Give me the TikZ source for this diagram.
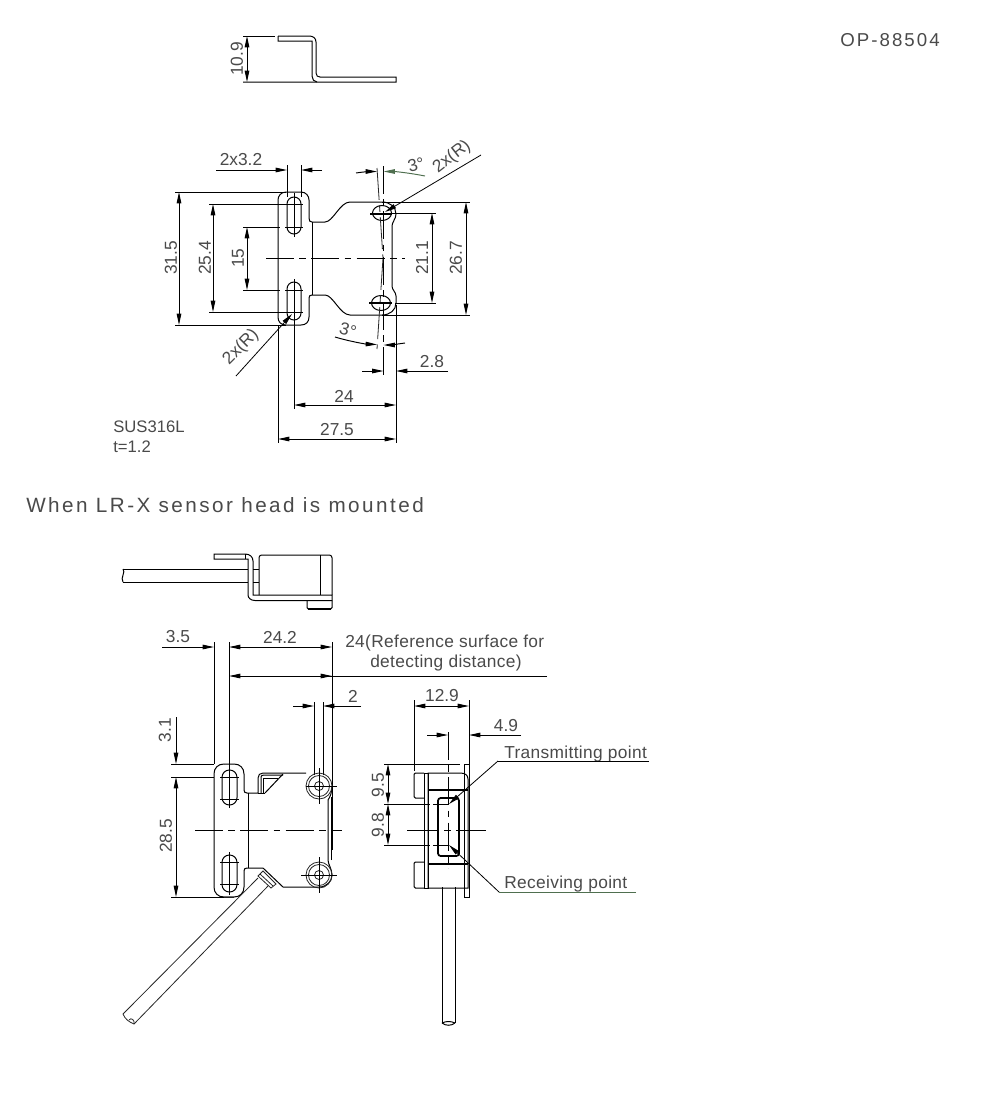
\documentclass[tikz,border=0pt]{standalone}
\usepackage{fontspec}
\setmainfont{Liberation Sans}
\usetikzlibrary{arrows.meta}
\definecolor{txt}{HTML}{4A4A4A}
\definecolor{lead}{HTML}{4F6F4F}
\tikzset{
 obj/.style={line width=0.75pt,black},
 thin1/.style={line width=0.6pt,black!85},
 thick1/.style={line width=1.3pt,black},
 tipe/.style={-{Triangle[length=8.5pt,width=3.4pt]},line width=0.72pt},
 tipb/.style={{Triangle[length=8.5pt,width=3.4pt]}-{Triangle[length=8.5pt,width=3.4pt]},line width=0.72pt},
 ctr/.style={line width=0.75pt,dash pattern=on 21pt off 4pt on 5pt off 4pt},
 lbl/.style={text=txt,font=\fontsize{13}{13}\selectfont,inner sep=0pt},
 rot/.style={lbl,rotate=90},
 big/.style={text=txt,font=\fontsize{15.5}{16}\selectfont\addfontfeature{LetterSpace=12},inner sep=0pt,anchor=west},
 lft/.style={lbl,anchor=west,font=\fontsize{13}{13}\selectfont\addfontfeature{LetterSpace=2}},
 matl/.style={lbl,anchor=west,font=\fontsize{12.5}{13}\selectfont},
}
\begin{document}
\begin{tikzpicture}[x=0.75pt,y=-0.75pt]
\useasboundingbox (0,0) rectangle (1000,1100);
\fill[white] (0,0) rectangle (1000,1100);
% --- texts top
\node[big,font=\fontsize{14}{14}\selectfont\addfontfeature{LetterSpace=11}] (opn) at (840,40) {OP-88504};
\node[big] (head) at (26,505) {When LR-X sensor head is mounted};
\node[matl] (mat1) at (113,427) {SUS316L};
\node[matl] (mat2) at (113,447) {t=1.2};
% --- side view of bracket
\draw[obj] (243,36) -- (275,36);
\draw[obj] (278,36) -- (309,36) .. controls (313,36) and (316,38) .. (316,42) -- (316,73) .. controls (316,76) and (318,77) .. (320,77) -- (396,77) -- (396,82) -- (243,82);
\draw[obj] (278,36) -- (278,41) -- (312,41) -- (312,76) .. controls (312,79) and (314,82) .. (317,82);
\draw[tipb] (247,36) -- (247,82);
\node[rot] (d109) at (237,59) {10.9};
% --- plan view outline
\draw[obj] (286,192) -- (301,192) .. controls (306,192) and (309,196) .. (309,200) -- (309,218) .. controls (309,221) and (310,222) .. (312,222) -- (325,222) .. controls (333,222) and (340,202) .. (350,202) -- (382,202) .. controls (390,202) and (396,207) .. (396,214) .. controls (396,219) and (392,222) .. (392,226) -- (392,286) .. controls (392,290) and (396,292) .. (396,296) -- (396,303) .. controls (396,310) and (390,315) .. (382,315) -- (350,315) .. controls (340,315) and (333,295) .. (325,295) -- (312,295) .. controls (310,295) and (309,296) .. (309,298) -- (309,317) .. controls (309,322) and (306,325) .. (301,325) -- (286,325) .. controls (281,325) and (278,322) .. (278,317) -- (278,200) .. controls (278,196) and (281,192) .. (286,192) -- cycle;
\draw[obj] (312,222) -- (312,295);
% slots
\draw[obj,rounded corners=5.2pt] (287,197) rectangle (301,234);
\draw[obj,rounded corners=5.2pt] (287,282) rectangle (301,320);
\draw[obj] (294,193) -- (294,237);
\draw[obj] (294,279) -- (294,409);
\draw[obj] (285,204) -- (303,204) (285,227) -- (303,227) (285,290) -- (303,290) (285,312) -- (303,312);
% holes
\draw[obj] (382,213) ellipse (9.5 and 7.5);
\draw[obj] (381,303) ellipse (9.5 and 7.5);
\draw[thick1] (370,214) -- (392,214);
\draw[thick1] (369,303) -- (392,303);
\draw[ctr] (383.5,166) -- (383.5,376);
\draw[thin1,dash pattern=on 24pt off 4pt on 5pt off 4pt] (377,168) -- (383,258);
\draw[thin1,dash pattern=on 24pt off 4pt on 5pt off 4pt] (383,258) -- (377,349);
\draw[ctr] (266,258) -- (405,258);
% 2x3.2
\draw[obj] (287,165) -- (287,197) (301,165) -- (301,197);
\draw[tipe] (216,170) -- (287,170);
\draw[tipe] (322,170) -- (301,170);
\node[lbl] (d32) at (241,160) {2x3.2};
% 3 deg upper
\draw[tipe] (356,173) .. controls (362,172) and (370,171.5) .. (377,171.5);
\draw[tipe,lead] (425,176) .. controls (410,173) and (395,171.5) .. (383.5,171.5);
\node[lbl,rotate=15] (a3u) at (416,165) {3°};
\node[lbl,rotate=38] (ru) at (452,157) {2x(R)};
\coordinate (ruend) at (481,155);
\coordinate (rutip) at (385,212);
\draw[tipe,line width=0.6pt] (ruend) -- (rutip);
% vertical dims
\draw[obj] (175,192) -- (286,192) (175,325) -- (286,325);
\draw[obj] (209,204) -- (285,204) (209,312) -- (285,312);
\draw[obj] (243,227) -- (280,227) (243,290) -- (280,290);
\draw[tipb] (179,192) -- (179,325);
\draw[tipb] (213,204) -- (213,312);
\draw[tipb] (247,227) -- (247,290);
\node[rot] (d315) at (171,258) {31.5};
\node[rot] (d254) at (205,258) {25.4};
\node[rot] (d15) at (238,258) {15};
\draw[obj] (392,213) -- (436,213) (395,303) -- (436,303);
\draw[obj] (382,202) -- (470,202) (382,315) -- (470,315);
\draw[tipb] (432,213) -- (432,303);
\draw[tipb] (466,202) -- (466,315);
\node[rot] (d211) at (422,258) {21.1};
\node[rot] (d267) at (456,258) {26.7};
% 2xR lower
\coordinate (rlend) at (236,376);
\coordinate (rltip) at (292,314);
\draw[tipe,line width=0.6pt] (rlend) -- (rltip);
\node[lbl,rotate=45] (rl) at (241,347) {2x(R)};
% 3 deg lower
\draw[tipe] (335,337) .. controls (348,341) and (365,344) .. (377,344.5);
\draw[tipe] (405,343) .. controls (398,344) and (390,345) .. (383.5,345);
\node[lbl,rotate=-15] (a3l) at (348,330) {3°};
% horizontal dims
\draw[obj] (278,325) -- (278,443);
\draw[obj] (396,305) -- (396,443);
\draw[tipe] (362,371) -- (383.5,371);
\draw[tipe] (448,371) -- (396,371);
\node[lbl] (d28) at (432,362) {2.8};
\draw[tipb] (294,405) -- (396,405);
\node[lbl] (d24) at (344,396) {24};
\draw[tipb] (278,439) -- (396,439);
\node[lbl] (d275) at (337,430) {27.5};
% --- mounted: top view
\draw[obj] (214,554) -- (245,554) .. controls (250,554) and (253,557) .. (253,561) -- (253,595) -- (332,595) -- (332,600.5) -- (255,600.5) .. controls (251,600.5) and (248,598) .. (248,595) -- (248,559) -- (214,559) -- cycle;
\draw[obj] (245,554) -- (245,559);
\draw[obj,rounded corners=2pt] (259,595) -- (259,555) -- (332,555) -- (332,595);
\draw[obj] (320,555) -- (320,595);
\draw[obj] (123,569) -- (248,569) (123,582) -- (248,582) (253,569) -- (259,569) (253,582) -- (259,582);
\draw[obj] (123,569) .. controls (126,572) and (120,578) .. (123,582);
\draw[obj,rounded corners=1pt] (307,600.5) -- (307,609) -- (332,609) -- (332,600.5);
\draw[thick1] (308,609) -- (331,609);
% dims 3.5, 24.2
\draw[obj] (214,642) -- (214,764) (229,642) -- (229,770) (332,642) -- (332,850);
\draw[tipe] (162,647) -- (214,647);
\draw[tipb] (229,647) -- (332,647);
\node[lbl] (d35) at (178,637) {3.5};
\node[lbl] (d242) at (280,637) {24.2};
\draw[obj] (547,676) -- (332,676);
\draw[tipe] (300,676) -- (332,676);
\draw[tipe] (332,676) -- (229,676);
\node[lft] (ref1) at (345,643) {24(Reference surface for};
\node[lft] (ref2) at (370,663) {detecting distance)};
% dim 2
\draw[obj] (314,702) -- (314,775) (323,702) -- (323,775);
\draw[tipe] (293,706) -- (314,706);
\draw[tipe] (361,706) -- (323,706);
\node[lbl] (d2) at (353,696) {2};
% mounted plan view
\draw[obj] (224,764) -- (234,764) .. controls (240,764) and (244,768) .. (244,774) -- (244,790) .. controls (244,792) and (245,793) .. (247,793) -- (258,793) -- (258,778) .. controls (258,775) and (260,773) .. (263,773) -- (306,773);
\draw[obj] (261,793) -- (261,777) .. controls (261,776) and (262,775) .. (264,775) -- (283,775);
\draw[obj] (263,793) -- (263,778) -- (278,778);
\draw[obj] (265,793) -- (283,774);
\draw[obj] (258,793) -- (265,793);
\draw[obj] (234,897) -- (224,897) .. controls (218,897) and (214,893) .. (214,887) -- (214,774) .. controls (214,768) and (218,764) .. (224,764);
\draw[obj] (224,897) -- (234,897) .. controls (240,897) and (244,893) .. (244,887) -- (244,871) .. controls (244,869) and (245,868) .. (247,868) -- (263,868);
\draw[obj] (248,793) -- (248,868);
\draw[obj] (263,868) -- (283,887) -- (319,887) .. controls (327,887) and (332,881) .. (332,875) .. controls (332,869) and (328,864) .. (328,860) -- (328,800);
\draw[obj] (331,860) -- (331,797);
\draw[obj] (328,800) .. controls (330,797) and (332,793) .. (332,786);
\draw[obj,rounded corners=5.5pt] (222,770) rectangle (237,805);
\draw[obj,rounded corners=5.5pt] (222,855) rectangle (237,892);
\draw[obj] (229.5,765) -- (229.5,808) (229.5,852) -- (229.5,895);
\draw[obj] (220,777) -- (239,777) (220,799) -- (239,799) (220,862) -- (239,862) (220,884) -- (239,884);
\draw[ctr] (195,830) -- (342,830);
% screws
\foreach \nm/\cy/\xl in {su/786/306,sl/875/301}{
 \draw[thin1] (319,\cy) circle (13);
 \draw[thin1] (319,\cy) circle (10.5);
 \draw[thin1] (319,\cy) circle (4.5);
 \draw[obj] (\xl,\cy) -- (337,\cy);
 \draw[obj] (319,\cy-18) -- (319,\cy+18);
}
% cable diag
\draw[thin1] (263,871) -- (276,884) -- (271,888) -- (258,876) -- cycle;
\draw[thin1] (260,874) -- (273,886);
\draw[thin1] (258,878) -- (123,1014);
\draw[thin1] (268,886) -- (134,1024);
\draw[thin1] (123,1014) .. controls (125,1019) and (129,1022) .. (134,1024);
\draw[thin1] (129,1020) .. controls (131,1017) and (135,1020) .. (134,1024);
% plan dims left
\draw[obj] (171,764) -- (214,764) (171,777) -- (214,777) (171,897) -- (224,897);
\draw[tipe] (176,717) -- (176,764);
\draw[tipb] (176,777) -- (176,897);
\node[rot] (d31) at (165,730) {3.1};
\node[rot] (d285) at (166,836) {28.5};
% --- front view
\draw[obj] (414,700) -- (414,771) (469,700) -- (469,766);
\draw[tipb] (414,706) -- (469,706);
\node[lbl] (d129) at (442,696) {12.9};
\draw[tipe] (427,735) -- (448,735);
\draw[tipe] (521,735) -- (469,735);
\node[lbl] (d49) at (506,726) {4.9};
\draw[obj] (464,764) rectangle (469,897);
\draw[obj] (428,773) -- (460,773) .. controls (465,773) and (468,775) .. (468,779) -- (468,885) -- (468,888) -- (428,888) -- cycle;
\draw[obj] (424,773) rectangle (428,888);
\draw[obj,rounded corners=1pt] (424,773) -- (414,773) -- (414,798) -- (424,798);
\draw[obj,rounded corners=1pt] (424,862) -- (414,862) -- (414,888) -- (424,888);
\draw[thick1] (428,790) -- (468,790) (428,864) -- (468,864);
\draw[thick1,rounded corners=2pt] (438,798) rectangle (459,856);
\draw[ctr] (448,732) -- (448,868);
\draw[ctr,dash pattern=on 24pt off 4pt on 5pt off 4pt] (407,830) -- (486,830);
\draw[obj] (384,764) -- (460,764);
\draw[obj] (384,804) -- (430,804) (433,804) -- (448,804);
\draw[obj] (384,845) -- (430,845) (433,845) -- (448,845);
\draw[tipb] (388,764) -- (388,804);
\draw[tipb] (388,804) -- (388,845);
\node[rot] (d95) at (378,785) {9.5};
\node[rot] (d98) at (378,825) {9.8};
\draw[obj] (442,887) -- (442,1023) (455,887) -- (455,1023);
\draw[obj] (442,1023) .. controls (446,1026) and (451,1026) .. (455,1023);
\draw[obj] (442,1023) .. controls (446,1021) and (451,1021) .. (455,1023);
% leaders
\node[lft] (tx) at (504,754) {Transmitting point};
\coordinate (txb) at (498,761);
\coordinate (txe) at (649,761);
\coordinate (txt) at (449,804);
\draw[line width=0.65pt] (txe) -- (txb);
\draw[tipe,line width=0.6pt] (txb) -- (txt);
\node[lft] (rx) at (504,884) {Receiving point};
\coordinate (rxb) at (499,892);
\coordinate (rxe) at (636,892);
\coordinate (rxt) at (449,845);
\draw[lead,line width=0.7pt] (rxe) -- (rxb);
\draw[tipe,line width=0.6pt] (rxb) -- (rxt);
\end{tikzpicture}
\end{document}
